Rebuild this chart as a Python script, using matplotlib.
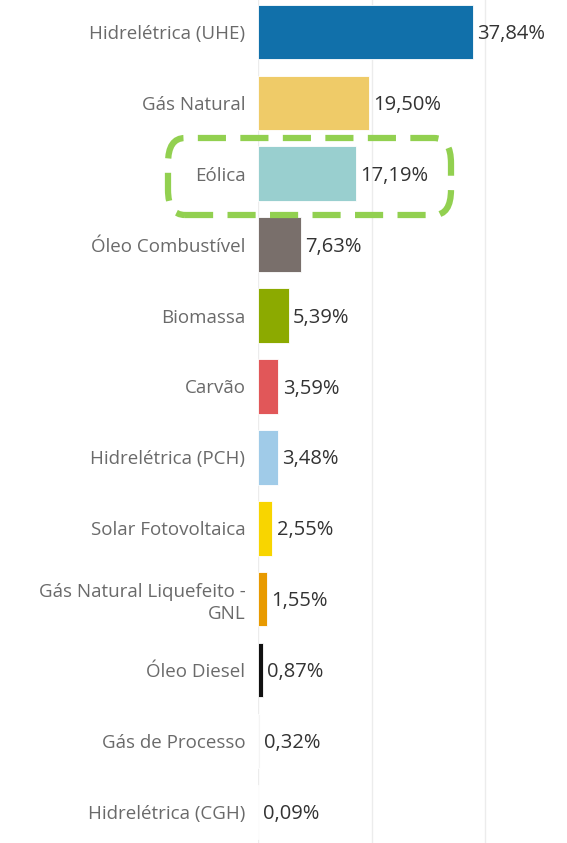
import matplotlib
matplotlib.use("Agg")
import matplotlib.pyplot as plt
from matplotlib.patches import FancyBboxPatch

# 数据
categorias = ["Hidrelétrica (UHE)", "Gás Natural", "Eólica", "Óleo Combustível",
              "Biomassa", "Carvão", "Hidrelétrica (PCH)", "Solar Fotovoltaica",
              "Gás Natural Liquefeito -\nGNL", "Óleo Diesel", "Gás de Processo",
              "Hidrelétrica (CGH)"]
valores = [37.84, 19.50, 17.19, 7.63, 5.39, 3.59, 3.48, 2.55, 1.55, 0.87, 0.32, 0.09]
cores = ["#1170aa", "#efcb68", "#99cfcf", "#796f6b", "#8caa00", "#e15759",
         "#a0cbe8", "#f8d500", "#e89a00", "#111111", "#f4f4f4", "#f4f4f4"]
rotulos = ["37,84%", "19,50%", "17,19%", "7,63%", "5,39%", "3,59%", "3,48%",
           "2,55%", "1,55%", "0,87%", "0,32%", "0,09%"]

plt.rcParams["font.family"] = ["Open Sans", "DejaVu Sans"]

W, H = 567, 843
fig = plt.figure(figsize=(W / 100, H / 100), dpi=100)
ax = fig.add_axes([258 / W, 0, 1 - 258 / W, 1])

y = list(range(len(categorias)))
ax.barh(y, valores, height=0.77, color=cores, edgecolor="white",
        linewidth=0.6, zorder=3)

ax.set_xlim(0, 54.4)
ax.set_ylim(11.44, -0.45)

# 网格线
ax.set_xticks([0, 20, 40])
ax.xaxis.grid(True, color="#ececec", linewidth=1, zorder=0)
ax.tick_params(axis="x", length=0, labelbottom=False)
ax.tick_params(axis="y", length=0, pad=9)
ax.set_yticks(y)
ax.set_yticklabels(categorias, fontsize=13.5, color="#6a6a6a", linespacing=1.3)
for s in ax.spines.values():
    s.set_visible(False)

# 数值标签
for i, (v, t) in enumerate(zip(valores, rotulos)):
    ax.text(v + 0.75, i + 0.03, t, va="center", ha="left", fontsize=14.5,
            color="#333333", zorder=4)

# 绿色虚线圆角框
box = FancyBboxPatch((168 / W, 1 - 215 / H), (451 - 168) / W, (215 - 138) / H,
                     boxstyle="round,pad=0,rounding_size=0.03",
                     transform=fig.transFigure, fill=False, edgecolor="#92d050",
                     linewidth=4.5, linestyle=(0, (4.5, 2.3)), zorder=5)
fig.patches.append(box)

fig.savefig("out.png", dpi=100)
